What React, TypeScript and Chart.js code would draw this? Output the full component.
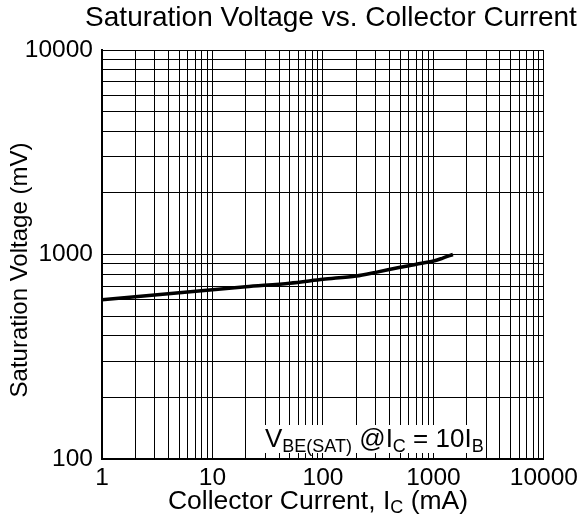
import React, { useEffect, useRef } from "react";
import { Chart, registerables } from "chart.js";

Chart.register(...registerables);

// ---- data ----
const collectorCurrent = [1, 2, 5, 10, 20, 50, 100, 200, 300, 500, 700, 1000, 1200, 1500];
const saturationVoltage = [600, 621, 650, 672, 696, 724, 756, 785, 818, 866, 896, 929, 958, 1000];

const xTickLabels = [1, 10, 100, 1000, 10000];
const yTickLabels = [100, 1000, 10000];
const gridSteps = [1, 2, 3, 4, 5, 6, 7, 8, 9];

const titleText = "Saturation Voltage vs. Collector Current";
const yTitleText = "Saturation Voltage (mV)";
const xTitleMain = "Collector Current, I";
const xTitleSub = "C";
const xTitleTail = " (mA)";

const FONT = "'Liberation Sans', Arial, Helvetica, sans-serif";

function gridValues(min: number, max: number): number[] {
  const out: number[] = [];
  for (let d = min; d < max; d *= 10) {
    for (const s of gridSteps) out.push(s * d);
  }
  out.push(max);
  return out;
}

const textPlugin = {
  id: "textPlugin",
  afterDraw(chart: any) {
    const ctx = chart.ctx as CanvasRenderingContext2D;
    ctx.save();
    ctx.fillStyle = "#000";

    // title
    ctx.font = `28px ${FONT}`;
    ctx.textAlign = "center";
    ctx.textBaseline = "middle";
    ctx.fillText(titleText, 331, 18);

    // x-axis title with subscript
    const mainFont = `26.5px ${FONT}`;
    const subFont = `18px ${FONT}`;
    ctx.font = mainFont;
    const w1 = ctx.measureText(xTitleMain).width;
    const w3 = ctx.measureText(xTitleTail).width;
    ctx.font = subFont;
    const w2 = ctx.measureText(xTitleSub).width;
    const total = w1 + w2 + w3;
    let x = 318 - total / 2;
    const baseY = 509;
    ctx.textAlign = "left";
    ctx.textBaseline = "alphabetic";
    ctx.font = mainFont;
    ctx.fillText(xTitleMain, x, baseY);
    x += w1;
    ctx.font = subFont;
    ctx.fillText(xTitleSub, x, baseY + 4);
    x += w2;
    ctx.font = mainFont;
    ctx.fillText(xTitleTail, x, baseY);

    // y-axis title
    ctx.save();
    ctx.translate(20, 270);
    ctx.rotate(-Math.PI / 2);
    ctx.font = `24px ${FONT}`;
    ctx.textAlign = "center";
    ctx.textBaseline = "middle";
    ctx.fillText(yTitleText, 0, 0);
    ctx.restore();

    // annotation box
    const annMain = `26px ${FONT}`;
    ctx.fillStyle = "#fff";
    ctx.fillRect(248, 425, 236, 28);
    ctx.fillStyle = "#000";
    const parts: [string, boolean][] = [
      ["V", false],
      ["BE(SAT)", true],
      [" @I", false],
      ["C", true],
      [" = 10I", false],
      ["B", true],
    ];
    let ax = 265;
    const ay = 447;
    ctx.textAlign = "left";
    ctx.textBaseline = "alphabetic";
    for (const [t, sub] of parts) {
      ctx.font = sub ? subFont : annMain;
      ctx.fillText(t, ax, sub ? ay + 5 : ay);
      ax += ctx.measureText(t).width;
    }
    ctx.restore();
  },
};

export default function App() {
  const canvasRef = useRef<HTMLCanvasElement | null>(null);

  useEffect(() => {
    const canvas = canvasRef.current;
    if (!canvas) return;
    const xGrid = gridValues(1, 10000);
    const yGrid = gridValues(100, 10000);
    const chart = new Chart(canvas, {
      type: "line",
      data: {
        datasets: [
          {
            data: collectorCurrent.map((c, i) => ({ x: c, y: saturationVoltage[i] })),
            borderColor: "#000",
            borderWidth: 3.5,
            pointRadius: 0,
            tension: 0.3,
            fill: false,
          },
        ],
      },
      options: {
        responsive: false,
        animation: false,
        layout: { padding: { left: 0, right: 39, top: 50, bottom: 0 } },
        plugins: {
          legend: { display: false },
          title: { display: false },
          tooltip: { enabled: false },
        },
        scales: {
          x: {
            type: "logarithmic",
            min: 1,
            max: 10000,
            afterFit: (s: any) => {
              s.height = 67;
            },
            afterBuildTicks: (s: any) => {
              s.ticks = xGrid.map((v) => ({ value: v }));
            },
            grid: { color: "#000", lineWidth: 1, drawTicks: false },
            border: { display: true, color: "#000", width: 2 },
            ticks: {
              autoSkip: false,
              maxRotation: 0,
              padding: 5,
              color: "#000",
              font: { family: FONT, size: 24.5 },
              callback: (v: any) => (xTickLabels.includes(Number(v)) ? String(v) : ""),
            },
          },
          y: {
            type: "logarithmic",
            min: 100,
            max: 10000,
            afterFit: (s: any) => {
              s.width = 102;
            },
            afterBuildTicks: (s: any) => {
              s.ticks = yGrid.map((v) => ({ value: v }));
            },
            grid: { color: "#000", lineWidth: 1, drawTicks: false },
            border: { display: true, color: "#000", width: 2 },
            ticks: {
              autoSkip: false,
              padding: 9,
              color: "#000",
              font: { family: FONT, size: 24.5 },
              callback: (v: any) => (yTickLabels.includes(Number(v)) ? String(v) : ""),
            },
          },
        },
      },
      plugins: [textPlugin],
    });
    return () => chart.destroy();
  }, []);

  return (
    <div style={{ position: "absolute", left: 0, top: 0, width: 583, height: 526, background: "#fff" }}>
      <canvas ref={canvasRef} width={583} height={526} style={{ width: 583, height: 526 }} />
    </div>
  );
}
